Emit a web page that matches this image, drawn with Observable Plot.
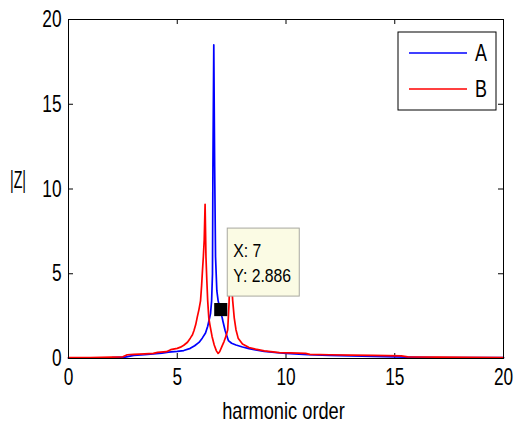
<!DOCTYPE html>
<html>
<head>
<meta charset="utf-8">
<script src="https://cdn.jsdelivr.net/npm/d3@7"></script>
<script src="https://cdn.jsdelivr.net/npm/@observablehq/plot@0.6"></script>
<style>
  body { margin: 0; background: #fff; }
  #wrap { position: relative; width: 514px; height: 424px; }
  #wrap svg { display: block; }
  .ov { position: absolute; left: 0; top: 0; pointer-events: none; }
</style>
</head>
<body>
<div id="wrap"></div>
<script>
// ---- data ----
const xTicks = [0, 5, 10, 15, 20];
const yTicks = [0, 5, 10, 15, 20];
const seriesNames = ["A", "B"];
const seriesColors = ["#0000ff", "#ff0000"];
const xLabel = "harmonic order";
const yLabel = "|Z|";
const tipX = 7;
const tipY = 2.886;

const aX = [0, 1, 2, 2.6, 3.0, 3.5, 3.9, 4.3, 4.6, 5.0, 5.3, 5.6, 5.8, 6.0, 6.15, 6.3, 6.4, 6.47, 6.53, 6.58, 6.62, 6.64, 6.68, 6.72, 6.76, 6.82, 6.88, 6.94, 7.0, 7.05, 7.1, 7.2, 7.35, 7.5, 7.7, 8.0, 8.3, 8.6, 9.0, 9.6, 10.0, 11.0, 12, 13, 14, 15.5, 17, 20];
const aY = [0.03, 0.04, 0.05, 0.08, 0.18, 0.22, 0.27, 0.32, 0.38, 0.42, 0.47, 0.6, 0.75, 0.95, 1.2, 1.5, 1.9, 2.3, 2.65, 3.4, 5.0, 11.3, 18.5, 11.3, 6.0, 4.0, 3.4, 3.1, 2.886, 2.5, 2.2, 1.65, 1.06, 0.9, 0.8, 0.68, 0.58, 0.5, 0.42, 0.34, 0.3, 0.22, 0.18, 0.15, 0.12, 0.08, 0.06, 0.05];

const bX = [0, 1, 2, 2.5, 2.7, 3.0, 3.5, 3.9, 4.1, 4.5, 4.7, 5.0, 5.15, 5.3, 5.47, 5.6, 5.7, 5.77, 5.85, 5.92, 6.0, 6.07, 6.12, 6.16, 6.2, 6.24, 6.28, 6.32, 6.36, 6.4, 6.45, 6.5, 6.6, 6.7, 6.8, 6.88, 6.95, 7.05, 7.15, 7.25, 7.32, 7.38, 7.42, 7.46, 7.5, 7.55, 7.62, 7.7, 7.8, 8.0, 8.3, 8.6, 9.0, 9.5, 9.7, 10.2, 10.9, 11.1, 12, 13, 14, 15.3, 15.6, 17, 20];
const bY = [0.05, 0.06, 0.08, 0.1, 0.22, 0.24, 0.27, 0.3, 0.36, 0.4, 0.52, 0.6, 0.67, 0.78, 0.96, 1.2, 1.4, 1.65, 2.0, 2.44, 2.9, 3.4, 4.3, 5.2, 6.0, 7.0, 9.1, 6.0, 4.6, 3.4, 2.4, 2.0, 1.3, 0.8, 0.45, 0.3, 0.4, 0.7, 1.0, 1.35, 1.7, 3.2, 5.0, 6.2, 4.4, 3.4, 2.4, 1.7, 1.2, 0.85, 0.65, 0.55, 0.45, 0.38, 0.35, 0.33, 0.3, 0.24, 0.22, 0.2, 0.18, 0.15, 0.1, 0.08, 0.06];

// ---- build table ----
const rows = [];
aX.forEach((x, i) => rows.push({series: "A", x, y: aY[i]}));
bX.forEach((x, i) => rows.push({series: "B", x, y: bY[i]}));

const FONT = '"Liberation Sans", Arial, sans-serif';
const W = 514, H = 424;
const mL = 68, mR = 11, mT = 19, mB = 66;
const fw = W - mL - mR, fh = H - mT - mB;
const tk = 5;

const plot = Plot.plot({
  width: W, height: H,
  marginLeft: mL, marginRight: mR, marginTop: mT, marginBottom: mB,
  style: {fontFamily: FONT, fontSize: "24px", background: "#fff", color: "#000", overflow: "visible"},
  x: {domain: [0, 20]},
  y: {domain: [0, 20]},
  color: {domain: seriesNames, range: seriesColors},
  marks: [
    Plot.axisX({ticks: xTicks, tickSize: 0, tickPadding: 9, label: null, tickFormat: d => String(d), fontSize: 24}),
    Plot.axisY({ticks: yTicks, tickSize: 0, tickPadding: 7, label: null, tickFormat: d => String(d), fontSize: 24}),
    Plot.tickX(xTicks, {x: d => d, insetTop: fh - tk, stroke: "#000"}),
    Plot.tickX(xTicks, {x: d => d, insetBottom: fh - tk, stroke: "#000"}),
    Plot.tickY(yTicks, {y: d => d, insetRight: fw - tk, stroke: "#000"}),
    Plot.tickY(yTicks, {y: d => d, insetLeft: fw - tk, stroke: "#000"}),
    Plot.lineY(rows, {x: "x", y: "y", z: "series", stroke: "series", strokeWidth: 1.7, curve: "linear"}),
    Plot.frame({stroke: "#000", strokeWidth: 1}),
    Plot.dot([{x: tipX, y: tipY}], {x: "x", y: "y", symbol: "square", r: 7.4, fill: "#000", stroke: "none"})
  ]
});

const wrap = document.getElementById("wrap");
wrap.appendChild(plot);

// narrow the glyphs (MATLAB-like condensed look) without moving anchors
function squeeze(node, s) {
  const len = node.getComputedTextLength();
  if (len > 0) {
    node.setAttribute("textLength", (len * s).toFixed(2));
    node.setAttribute("lengthAdjust", "spacingAndGlyphs");
  }
}
d3.select(plot).selectAll("text").each(function () { squeeze(this, 0.72); });

// ---- overlays: axis labels, legend and data tip ----
const sx = plot.scale("x"), sy = plot.scale("y");
const ov = d3.select(wrap).append("svg")
  .attr("class", "ov").attr("width", W).attr("height", H)
  .style("font-family", FONT);

const [x0, x1] = sx.range;
const [y0, y1] = sy.range; // y0 bottom, y1 top
const xl = ov.append("text")
  .attr("x", (x0 + x1) / 2 - 2).attr("y", y0 + 61)
  .attr("text-anchor", "middle").attr("font-size", 24).text(xLabel);
squeeze(xl.node(), 0.76);
const yl = ov.append("text")
  .attr("x", x0 - 50).attr("y", (y0 + y1) / 2 - 1)
  .attr("text-anchor", "middle").attr("font-size", 23).text(yLabel);
squeeze(yl.node(), 0.62);

// legend
const lg = ov.append("g").attr("transform", "translate(398,32)");
lg.append("rect").attr("width", 98).attr("height", 78).attr("fill", "#fff").attr("stroke", "#000").attr("stroke-width", 1);
seriesNames.forEach((name, i) => {
  const yy = 21 + i * 36;
  lg.append("line").attr("x1", 11).attr("x2", 69).attr("y1", yy).attr("y2", yy)
    .attr("stroke", seriesColors[i]).attr("stroke-width", 1.7);
  const t = lg.append("text").attr("x", 77).attr("y", yy).attr("dy", "0.36em")
    .attr("font-size", 23).text(name);
  squeeze(t.node(), 0.78);
});

// data tip
const px = sx.apply(tipX), py = sy.apply(tipY);
const tg = ov.append("g").attr("transform", `translate(${px + 7},${py - 81})`);
tg.append("rect").attr("width", 72).attr("height", 68)
  .attr("fill", "#fbfbe4").attr("stroke", "#a8a8a0").attr("stroke-width", 1);
const t1 = tg.append("text").attr("x", 6).attr("y", 29).attr("font-size", 19).text(`X: ${tipX}`);
const t2 = tg.append("text").attr("x", 6).attr("y", 54).attr("font-size", 19).text(`Y: ${tipY}`);
squeeze(t1.node(), 0.83);
squeeze(t2.node(), 0.83);
</script>
</body>
</html>
